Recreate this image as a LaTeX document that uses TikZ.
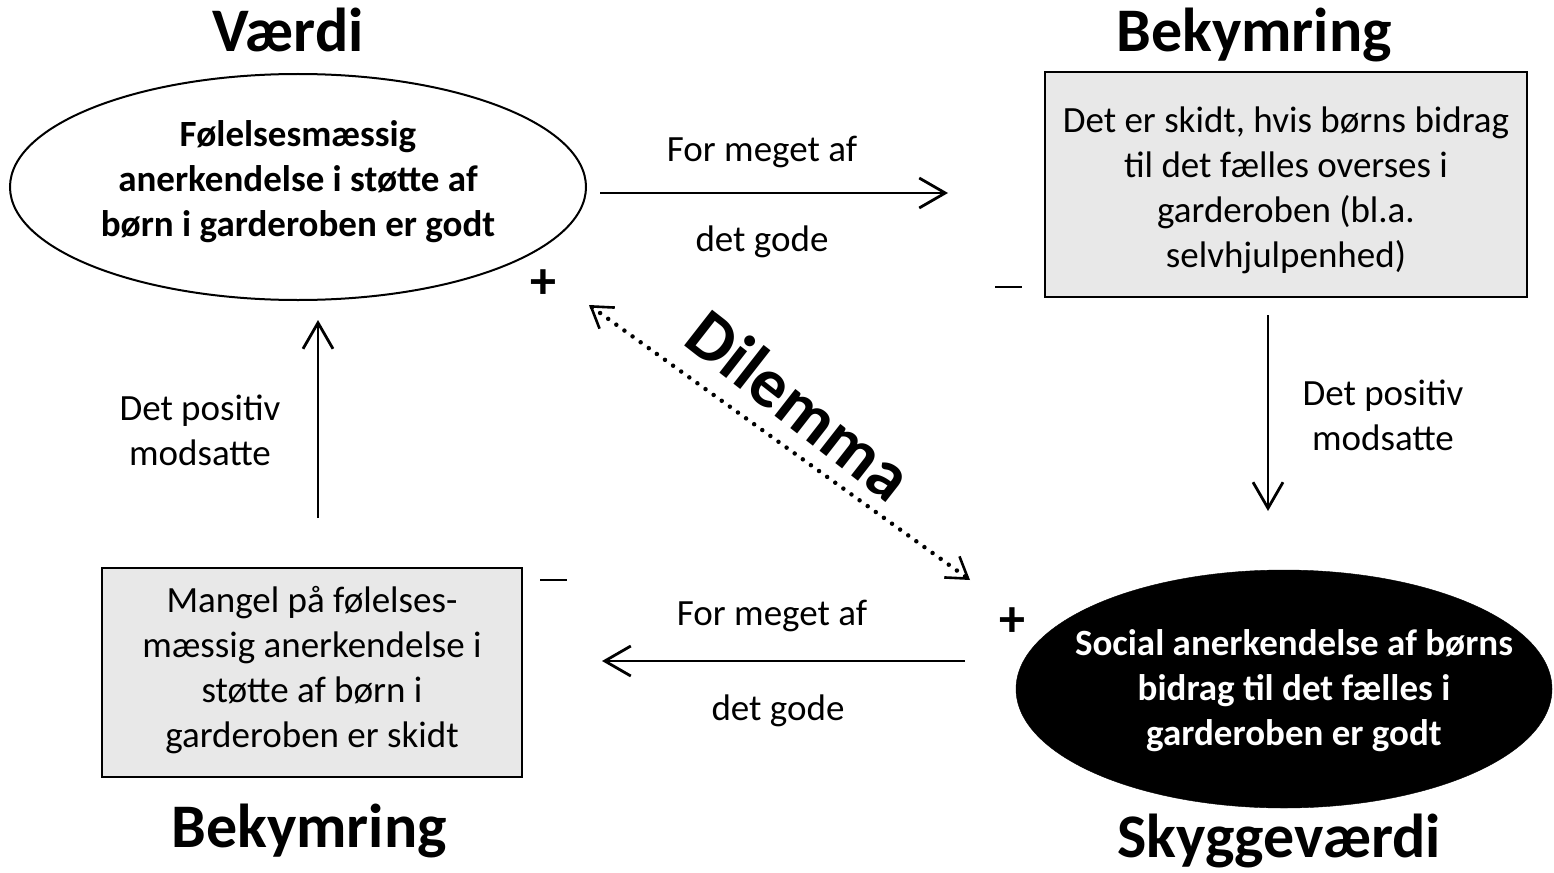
\documentclass[tikz,border=0pt]{standalone}
\usepackage{fontspec}
\setmainfont{Carlito}
\usetikzlibrary{arrows.meta,shapes.geometric}
\begin{document}
\begin{tikzpicture}[x=1pt,y=-1pt,
  title/.style={font=\fontsize{62}{70}\selectfont\bfseries, anchor=base, inner sep=0pt},
  body/.style={font=\fontsize{37}{45}\selectfont, align=center},
  bbody/.style={font=\fontsize{37}{45}\selectfont\bfseries, align=center},
  arr/.style={line width=2.8pt, -{Straight Barb[length=26pt,width=30pt,line width=2.8pt]}},
  dil/.style={line width=4.5pt, line cap=round, dash pattern=on 0pt off 10pt,
     {Straight Barb[length=20pt,width=26pt,line width=2.6pt]}-{Straight Barb[length=20pt,width=26pt,line width=2.6pt]}},
  boxst/.style={draw, line width=2pt, fill=black!9, minimum width=482pt, minimum height=225pt, inner sep=0pt},
  sign/.style={font=\fontsize{52}{52}\selectfont\bfseries}
]
\useasboundingbox (0,0) rectangle (1554,872);
\node[title] (t1) at (288,52) {Værdi};
\node[title] (t2) at (1254,52) {Bekymring};
\node[title] (t3) at (309,847) {Bekymring};
\node[title] (t4) at (1279,857) {Skyggeværdi};

\node[draw, ellipse, line width=2pt, minimum width=576pt, minimum height=226pt, inner sep=0pt] (e1) at (298,187) {};
\node[bbody] (e1t) at (298,182) {Følelsesmæssig\\anerkendelse i støtte af\\børn i garderoben er godt};

\node[draw, ellipse, fill=black, minimum width=536pt, minimum height=238pt, inner sep=0pt] (e2) at (1284,689) {};
\node[bbody, text=white] (e2t) at (1294,691) {Social anerkendelse af børns\\bidrag til det fælles i\\garderoben er godt};

\node[boxst] (b1) at (1286,184.5) {};
\node[body] (b1t) at (1286,190) {Det er skidt, hvis børns bidrag\\til det fælles overses i\\garderoben (bl.a.\\selvhjulpenhed)};

\node[boxst, minimum width=420pt, minimum height=209pt] (b2) at (312,672.5) {};
\node[body] (b2t) at (312,670) {Mangel på følelses-\\mæssig anerkendelse i\\støtte af børn i\\garderoben er skidt};

\coordinate (a1s) at (600,193);
\coordinate (a1e) at (948,193);
\draw[arr] (a1s) -- (a1e);
\node[body] (l1) at (762,152) {For meget af};
\node[body] (l2) at (762,242) {det gode};

\coordinate (a2s) at (965,661);
\coordinate (a2e) at (602,661);
\draw[arr] (a2s) -- (a2e);
\node[body] (l3) at (772,616) {For meget af};
\node[body] (l4) at (778,711) {det gode};

\coordinate (a3s) at (318,518);
\coordinate (a3e) at (318,320);
\draw[arr] (a3s) -- (a3e);
\node[body] (l5) at (200,430) {Det positiv\\modsatte};

\coordinate (a4s) at (1268,315);
\coordinate (a4e) at (1268,511);
\draw[arr] (a4s) -- (a4e);
\node[body] (l6) at (1383,415) {Det positiv\\modsatte};

\coordinate (d1) at (589,305);
\coordinate (d2) at (970,580);
\draw[dil] (d1) -- (d2);
\node[font=\fontsize{70}{72}\selectfont\bfseries, rotate=-38] (dl) at (800,405) {Dilemma};

\node[sign] (p1) at (543,284) {+};
\node[sign] (p2) at (1012,622) {+};
\coordinate (m1a) at (995,287);
\coordinate (m1b) at (1022,287);
\draw[line width=1.8pt] (m1a) -- (m1b);
\coordinate (m2a) at (540,580);
\coordinate (m2b) at (567,580);
\draw[line width=1.8pt] (m2a) -- (m2b);
\end{tikzpicture}
\end{document}
